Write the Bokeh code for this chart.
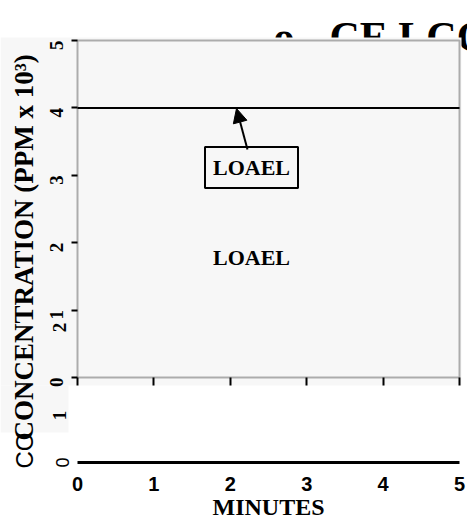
import math
from bokeh.plotting import figure
from bokeh.models import (Range1d, FixedTicker, LinearAxis, BoxAnnotation,
                          Label, Arrow, NormalHead)
from bokeh.embed import file_html
from bokeh.resources import INLINE

# ---- data ----
minutes_ticks = [0, 1, 2, 3, 4, 5]
conc_ticks = [0, 1, 2, 3, 4, 5]
loael_level = 4.0
title_text = "o - CE LCO"
y_title = "CONCENTRATION (PPM x 10³)"
x_title = "MINUTES"
loael_label = "LOAEL"

# ---- layout (pixel geometry of the page) ----
W, H = 467, 529
X0, X5 = 77, 459          # px of minute 0 and 5
Y0, Y5 = 377, 40          # px of concentration 0 and 5
PXX = (X5 - X0) / 5.0
PXY = (Y0 - Y5) / 5.0

def sx(px):
    return (px - X0) / PXX

def sy(py):
    return (Y0 - py) / PXY

GREY = "#f7f7f7"
SERIF = "Liberation Serif"
SANS = "Liberation Sans"

p = figure(width=W, height=H, output_backend="svg", toolbar_location=None,
           x_range=Range1d(sx(0), sx(W)), y_range=Range1d(sy(H), sy(0)),
           min_border=0, x_axis_location=None, y_axis_location=None)
p.background_fill_color = "white"
p.border_fill_color = "white"
p.outline_line_color = None
p.xgrid.visible = False
p.ygrid.visible = False

# ---- underlying, partly covered texts ----
p.add_layout(Label(x=sx(273), y=sy(36), text=title_text, text_font=SERIF,
                   text_font_size="42px", text_font_style="bold", text_color="black",
                   text_baseline="alphabetic", level="underlay"))
p.add_layout(Label(x=sx(24), y=sy(468), text=y_title, angle=math.pi / 2,
                   text_font=SANS, text_font_size="24px", text_color="black",
                   text_baseline="middle", text_align="left", level="underlay"))

# ---- grey patches ----
p.add_layout(BoxAnnotation(left=sx(0), right=sx(461), top=sy(37), bottom=sy(385),
                           fill_color=GREY, fill_alpha=1, line_color=None,
                           level="underlay"))
p.add_layout(BoxAnnotation(left=sx(0), right=sx(68), top=sy(385), bottom=sy(432),
                           fill_color=GREY, fill_alpha=1, line_color=None,
                           level="underlay"))

# ---- plot box ----
p.add_layout(BoxAnnotation(left=minutes_ticks[0], right=minutes_ticks[-1],
                           bottom=conc_ticks[0], top=conc_ticks[-1],
                           fill_color=GREY, fill_alpha=1, line_color="black",
                           line_width=2, level="underlay"))

# LOAEL line across the box
p.line(x=[minutes_ticks[0], minutes_ticks[-1]], y=[loael_level, loael_level],
       line_color="black", line_width=2)

# ---- axes ----
yax = LinearAxis(ticker=FixedTicker(ticks=conc_ticks), fixed_location=0,
                 bounds=(conc_ticks[0], conc_ticks[-1]))
yax.axis_line_color = None
yax.major_tick_out = 6
yax.major_tick_in = 0
yax.major_tick_line_width = 2
yax.minor_tick_out = 0
yax.minor_tick_in = 0
yax.major_label_orientation = math.pi / 2
yax.major_label_text_font = SERIF
yax.major_label_text_font_size = "19px"
yax.major_label_text_font_style = "bold"
yax.major_label_text_color = "black"
yax.major_label_standoff = 15
p.add_layout(yax, "left")

bax = LinearAxis(ticker=FixedTicker(ticks=minutes_ticks), fixed_location=0,
                 bounds=(minutes_ticks[0], minutes_ticks[-1]))
bax.axis_line_color = None
bax.major_tick_out = 8
bax.major_tick_in = 0
bax.major_tick_line_width = 2
bax.minor_tick_out = 0
bax.minor_tick_in = 0
bax.major_label_text_font_size = "0px"
bax.major_label_text_alpha = 0
p.add_layout(bax, "below")

xax = LinearAxis(ticker=FixedTicker(ticks=minutes_ticks), axis_label=x_title,
                 fixed_location=sy(462), bounds=(minutes_ticks[0], minutes_ticks[-1]))
xax.axis_line_width = 3
xax.axis_line_color = "black"
xax.major_tick_out = 0
xax.major_tick_in = 0
xax.minor_tick_out = 0
xax.minor_tick_in = 0
xax.major_label_text_font = SANS
xax.major_label_text_font_size = "20px"
xax.major_label_text_font_style = "bold"
xax.major_label_text_color = "black"
xax.major_label_standoff = 14
xax.axis_label_text_font = SERIF
xax.axis_label_text_font_size = "24px"
xax.axis_label_text_font_style = "bold"
xax.axis_label_text_color = "black"
xax.axis_label_standoff = 0
p.add_layout(xax, "below")

# ---- texts on top ----
p.add_layout(Label(x=sx(23), y=sy(440), text=y_title, angle=math.pi / 2,
                   text_font=SERIF, text_font_size="27px", text_font_style="bold",
                   text_color="black", text_baseline="middle", text_align="left"))

for t, py in [("1", 415), ("2", 327)]:
    p.add_layout(Label(x=sx(59), y=sy(py), text=t, angle=math.pi / 2,
                       text_font=SERIF, text_font_size="19px", text_font_style="bold",
                       text_color="black", text_baseline="middle", text_align="center"))
p.add_layout(Label(x=sx(62), y=sy(462), text="0", angle=math.pi / 2,
                   text_font=SANS, text_font_size="18px", text_color="black",
                   text_baseline="middle", text_align="center"))

p.add_layout(Label(x=sx(251), y=sy(167), text=loael_label, text_font=SERIF,
                   text_font_size="22px", text_font_style="bold", text_color="black",
                   text_align="center", text_baseline="middle",
                   border_line_color="black", border_line_width=2,
                   background_fill_color=GREY, padding=8))
p.add_layout(Arrow(x_start=sx(247), y_start=sy(149), x_end=sx(236), y_end=sy(108),
                   line_color="black", line_width=2,
                   end=NormalHead(size=14, fill_color="black", line_color="black")))
p.add_layout(Label(x=sx(251), y=sy(257), text=loael_label, text_font=SERIF,
                   text_font_size="22px", text_font_style="bold", text_color="black",
                   text_align="center", text_baseline="middle"))

open("out.html", "w").write(file_html(p, INLINE))
